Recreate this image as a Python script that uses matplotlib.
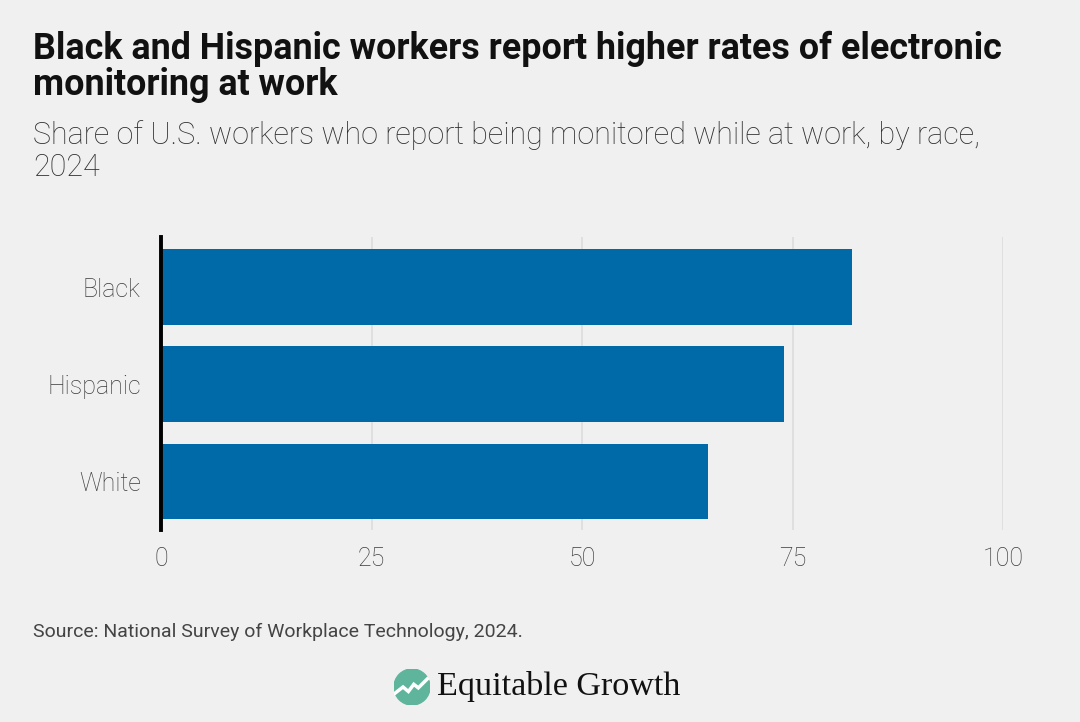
import matplotlib
matplotlib.use('Agg')
from matplotlib import pyplot as plt
from matplotlib.patches import Circle

# data
groups = ['Black', 'Hispanic', 'White']
shares = [82, 74, 65]
xticks = [0, 25, 50, 75, 100]

bg = '#f0f0f0'
bar_color = '#0069a7'

fig = plt.figure(figsize=(10.8, 7.22), dpi=100, facecolor=bg)
ax = fig.add_axes([0.149, 0.266, 0.78, 0.406], facecolor=bg)

ypos = list(range(len(groups)))
ax.barh(ypos, shares, height=0.78, color=bar_color, zorder=3)
ax.set_ylim(len(groups) - 0.5, -0.52)
ax.set_xlim(0, 100)

ax.set_yticks(ypos)
ax.set_yticklabels(groups)
ax.set_xticks(xticks)
ax.set_xticklabels([str(t) for t in xticks])
ax.tick_params(axis='both', length=0, labelsize=18, labelcolor='#3c3c3c')
ax.tick_params(axis='x', pad=12)
ax.tick_params(axis='y', pad=14.5)
for lab in ax.get_xticklabels() + ax.get_yticklabels():
	lab.set_fontfamily('Roboto')
	lab.set_fontweight('light')

ax.grid(axis='x', color='#dcdcdc', linewidth=1.2, zorder=0)
for s in ['top', 'right', 'bottom']:
	ax.spines[s].set_visible(False)
ax.spines['left'].set_linewidth(2.8)
ax.spines['left'].set_color('black')
ax.spines['left'].set_zorder(4)

# titles
fig.text(0.031, 0.958, 'Black and Hispanic workers report higher rates of electronic\nmonitoring at work',
	fontsize=25.8, fontweight='bold', family='Roboto', color='#111111',
	va='top', ha='left', linespacing=1.03)
fig.text(0.031, 0.834, 'Share of U.S. workers who report being monitored while at work, by race,\n2024',
	fontsize=22, fontweight='light', family='Roboto', color='#2e2e2e',
	va='top', ha='left', linespacing=1.12)

fig.text(0.031, 0.125, 'Source: National Survey of Workplace Technology, 2024.',
	fontsize=14, family='Roboto', color='#444444', va='center', ha='left')

# logo
cx, cy = 412 / 1080, 1 - 687 / 722
logo_ax = fig.add_axes([cx - 18 / 1080, cy - 18 / 722, 36 / 1080, 36 / 722])
logo_ax.set_xlim(-1, 1)
logo_ax.set_ylim(-1, 1)
logo_ax.set_aspect('equal')
logo_ax.axis('off')
logo_ax.add_patch(Circle((0, 0), 1, color='#5fb49c'))
logo_ax.plot([-0.95, -0.5, -0.2, 0.1, 0.35, 0.85], [-0.35, 0.0, -0.25, 0.15, -0.05, 0.45],
	color='white', linewidth=2.5, solid_joinstyle='miter')
fig.text(437 / 1080, cy, 'Equitable Growth', fontsize=24.6, family='Liberation Serif',
	color='#111111', va='center', ha='left')

fig.savefig('out.png', dpi=100, facecolor=bg)
